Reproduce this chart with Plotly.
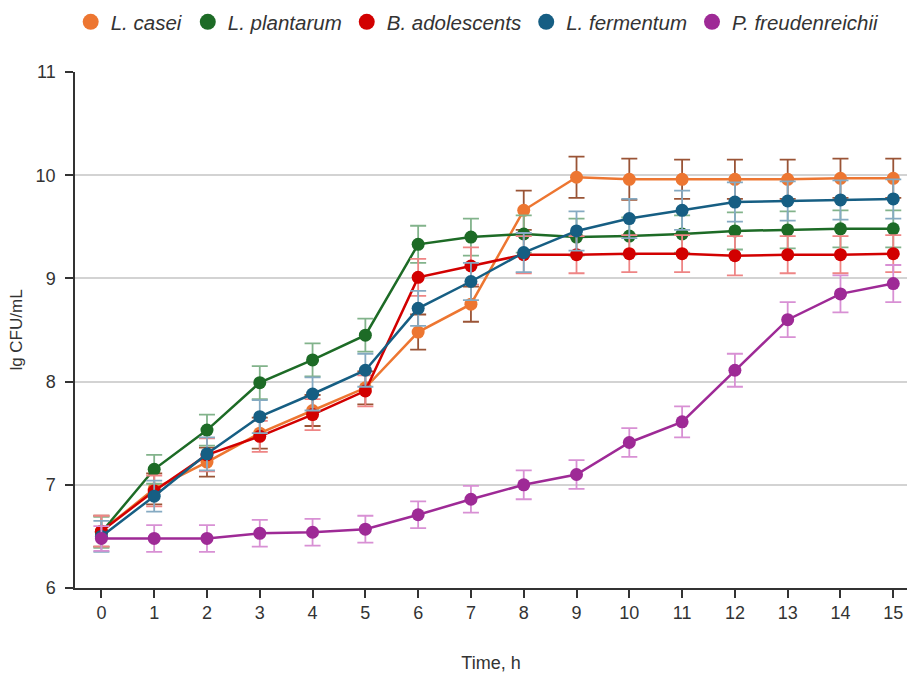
import plotly.graph_objects as go

hours = list(range(16))

casei = [6.55, 6.96, 7.22, 7.50, 7.72, 7.94, 8.48, 8.75, 9.66, 9.98, 9.96, 9.96, 9.96, 9.96, 9.97, 9.97]
casei_err = [0.15, 0.15, 0.14, 0.15, 0.15, 0.16, 0.17, 0.17, 0.19, 0.20, 0.20, 0.19, 0.19, 0.19, 0.19, 0.19]

plantarum = [6.54, 7.15, 7.53, 7.99, 8.21, 8.45, 9.33, 9.40, 9.43, 9.40, 9.41, 9.43, 9.46, 9.47, 9.48, 9.48]
plantarum_err = [0.15, 0.14, 0.15, 0.16, 0.16, 0.16, 0.18, 0.18, 0.18, 0.18, 0.18, 0.18, 0.18, 0.18, 0.18, 0.18]

adolescents = [6.55, 6.94, 7.29, 7.47, 7.68, 7.91, 9.01, 9.12, 9.23, 9.23, 9.24, 9.24, 9.22, 9.23, 9.23, 9.24]
adolescents_err = [0.15, 0.15, 0.16, 0.15, 0.15, 0.15, 0.18, 0.18, 0.18, 0.18, 0.18, 0.18, 0.19, 0.18, 0.18, 0.18]

fermentum = [6.50, 6.89, 7.30, 7.66, 7.88, 8.11, 8.71, 8.97, 9.25, 9.46, 9.58, 9.66, 9.74, 9.75, 9.76, 9.77]
fermentum_err = [0.15, 0.15, 0.16, 0.16, 0.16, 0.16, 0.17, 0.18, 0.19, 0.19, 0.19, 0.19, 0.19, 0.19, 0.19, 0.19]

freudenreichii = [6.48, 6.48, 6.48, 6.53, 6.54, 6.57, 6.71, 6.86, 7.00, 7.10, 7.41, 7.61, 8.11, 8.60, 8.85, 8.95]
freudenreichii_err = [0.12, 0.13, 0.13, 0.13, 0.13, 0.13, 0.13, 0.13, 0.14, 0.14, 0.14, 0.15, 0.16, 0.17, 0.18, 0.18]

series = [
    ("L. casei", casei, casei_err, "#ED7631", "#9A5436"),
    ("L. plantarum", plantarum, plantarum_err, "#1D6B26", "#82B38B"),
    ("B. adolescents", adolescents, adolescents_err, "#D20000", "#EE8585"),
    ("L. fermentum", fermentum, fermentum_err, "#165E83", "#85AAC2"),
    ("P. freudenreichii", freudenreichii, freudenreichii_err, "#9E2A96", "#D890D4"),
]

FONT = "Liberation Sans, Arial, sans-serif"

fig = go.Figure()
for name, vals, err, color, err_color in series:
    fig.add_trace(go.Scatter(
        x=hours, y=vals, name=name, mode="lines+markers", showlegend=False,
        line=dict(color=color, width=2.5),
        marker=dict(color=color, size=13),
        error_y=dict(type="data", array=err, visible=True,
                     color=err_color, thickness=1.8, width=8),
    ))

# marker-only legend entries
for name, vals, err, color, err_color in series:
    fig.add_trace(go.Scatter(
        x=[None], y=[None], name=name, mode="markers",
        marker=dict(color=color, size=16), showlegend=True,
    ))

axis_color = "#333333"
fig.update_layout(
    width=907, height=674,
    margin=dict(l=75, r=0, t=72, b=86),
    paper_bgcolor="white", plot_bgcolor="white",
    font=dict(family=FONT, size=18, color="#333333"),
    showlegend=True,
    legend=dict(orientation="h", x=0.484, xanchor="center", y=0.997, yanchor="top",
                yref="container", font=dict(size=20.5, style="italic", color="#333333"),
                itemwidth=30, tracegroupgap=0),
    xaxis=dict(range=[-0.5, 15.26], tickmode="array", tickvals=hours,
               ticktext=[str(h) for h in hours],
               showgrid=False, zeroline=False, showline=True,
               linecolor=axis_color, linewidth=1.5,
               ticks="outside", ticklen=8, tickwidth=1.5, tickcolor=axis_color,
               tickfont=dict(size=18),
               title=dict(text="Time, h", standoff=34, font=dict(size=18))),
    yaxis=dict(range=[6, 11], tickvals=[6, 7, 8, 9, 10, 11],
               showgrid=True, gridcolor="#D3D3D3", gridwidth=1.5, zeroline=False,
               showline=True, linecolor=axis_color, linewidth=1.5,
               ticks="outside", ticklen=8, tickwidth=1.5, tickcolor=axis_color,
               tickfont=dict(size=18), ticklabelstandoff=6,
               title=dict(text="lg CFU/mL", standoff=9, font=dict(size=17))),
    xaxis2=dict(overlaying="x", range=[-0.5, 15.26], tickmode="array", tickvals=hours,
                showticklabels=False, showgrid=False, zeroline=False, showline=False,
                ticks="inside", ticklen=8, tickwidth=1.5, tickcolor=axis_color,
                anchor="y"),
    yaxis2=dict(overlaying="y", range=[6, 11], tickvals=[6, 7, 8, 9, 10, 11],
                showticklabels=False, showgrid=False, zeroline=False, showline=False,
                ticks="inside", ticklen=8, tickwidth=1.5, tickcolor=axis_color,
                anchor="x", side="left"),
)

fig.write_html("out.html")
